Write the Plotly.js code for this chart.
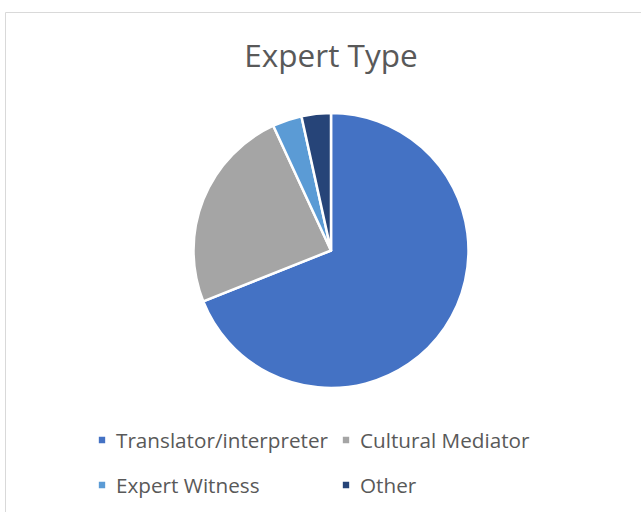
<!DOCTYPE html>
<html><head><meta charset="utf-8">
<script src="https://cdn.plot.ly/plotly-3.0.1.min.js"></script>
<style>html,body{margin:0;padding:0;background:#fff;overflow:hidden;} #chart{width:641px;height:512px;}</style>
</head><body><div id="chart"></div>
<script>
const categories = ["Translator/interpreter", "Cultural Mediator", "Expert Witness", "Other"];
const counts = [20, 7, 1, 1];
const sliceColors = ["#4472C4", "#A5A5A5", "#5B9BD5", "#264478"];
const chartTitle = "Expert Type";

const W = 641, H = 512;
const M = {l: 40, r: 19, t: 113, b: 124, pad: 0};
const pw = W - M.l - M.r, ph = H - M.t - M.b;
const px = v => (v - M.l) / pw;
const py = v => (H - M.b - v) / ph;

const data = [{
  type: 'pie',
  labels: categories,
  values: counts,
  marker: {colors: sliceColors, line: {color: '#ffffff', width: 2.5}},
  sort: false,
  direction: 'clockwise',
  rotation: 0,
  textinfo: 'none',
  hoverinfo: 'label+value+percent'
}];

const layout = {
  width: W, height: H, margin: M,
  paper_bgcolor: '#ffffff', plot_bgcolor: '#ffffff',
  font: {family: '"Open Sans", Lato, sans-serif', color: '#595959'},
  title: {text: chartTitle, font: {size: 31.5, color: '#595959'},
          x: 0.5, xref: 'paper', xanchor: 'center',
          y: 1 - 56 / H, yref: 'container', yanchor: 'middle'},
  showlegend: true,
  legend: {orientation: 'h', xref: 'container', yref: 'container',
           x: 76 / W, xanchor: 'left', y: 1 - 420 / H, yanchor: 'top',
           font: {size: 20.7, color: '#595959'},
           entrywidth: 199, entrywidthmode: 'pixels',
           traceorder: 'normal', bgcolor: 'rgba(0,0,0,0)'},
  shapes: [{type: 'rect', xref: 'paper', yref: 'paper',
            x0: px(5.5), x1: px(720), y0: py(12.5), y1: py(620),
            line: {color: '#D9D9D9', width: 1}, fillcolor: 'rgba(0,0,0,0)', layer: 'below'}]
};

Plotly.newPlot('chart', data, layout, {staticPlot: true, displayModeBar: false}).then(gd => {
  gd.querySelectorAll('.legend [clip-path]').forEach(el => el.removeAttribute('clip-path'));
  const items = Array.from(gd.querySelectorAll('.legend .traces'));
  const parse = el => {
    const m = /translate\(([-\d.]+)[ ,]+([-\d.]+)\)/.exec(el.getAttribute('transform') || '');
    return m ? [parseFloat(m[1]), parseFloat(m[2])] : [0, 0];
  };
  const pos = items.map(parse);
  const ys = Array.from(new Set(pos.map(p => p[1]))).sort((a, b) => a - b);
  const rowGap = 45;
  items.forEach((el, i) => {
    const r = ys.indexOf(pos[i][1]);
    el.setAttribute('transform', 'translate(' + pos[i][0] + ',' + (ys[0] + r * rowGap) + ')');
  });
  gd.querySelectorAll('.legend path.legendpie').forEach(p => {
    p.setAttribute('transform', 'translate(26,0) scale(0.67)');
  });
});
</script>
</body></html>
